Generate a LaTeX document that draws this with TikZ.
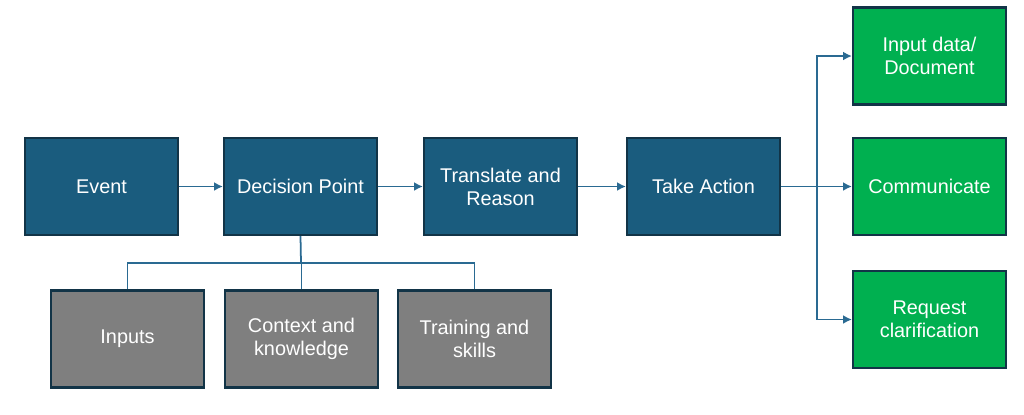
\documentclass[tikz,border=0pt]{standalone}
\usepackage{fontspec}
\setmainfont{Liberation Sans}
\usepackage{xcolor}
\usetikzlibrary{arrows.meta}

\definecolor{stepblue}{HTML}{1A5C7E}
\definecolor{stepgrey}{HTML}{7F7F7F}
\definecolor{stepgreen}{HTML}{00B050}
\definecolor{edgedark}{HTML}{123447}
\definecolor{linkblue}{HTML}{2A6A92}

\tikzset{
  stage/.style={draw=edgedark, line width=1.2pt, minimum width=3.06cm,
    minimum height=1.94cm, text=white, align=center,
    font=\fontsize{11.3}{13}\selectfont},
  link/.style={draw=linkblue, line width=1pt},
  arr/.style={link, -{Latex[length=5pt,width=5pt]}}
}

\begin{document}
\begin{tikzpicture}[x=0.02cm,y=-0.02cm]
\useasboundingbox (0,0) rectangle (1024,414);
% main line
\node[stage,fill=stepblue] (event) at (101.5,186.5) {Event};
\node[stage,fill=stepblue] (decision) at (300.5,186.5) {Decision Point};
\node[stage,fill=stepblue] (reason) at (500.5,186.5) {Translate and\\Reason};
\node[stage,fill=stepblue] (action) at (703.5,186.5) {Take Action};
% what the decision draws on
\node[stage,fill=stepgrey] (inputs) at (127.5,339) {Inputs};
\node[stage,fill=stepgrey] (context) at (301.5,339) {Context and\\knowledge};
\node[stage,fill=stepgrey] (training) at (474.5,339) {Training and\\skills};
% outcomes
\node[stage,fill=stepgreen] (indata) at (929.5,56) {Input data/\\Document};
\node[stage,fill=stepgreen] (comm) at (929.5,186.5) {Communicate};
\node[stage,fill=stepgreen] (clarify) at (929.5,319.5) {Request\\clarification};

\draw[arr] (event) -- (decision);
\draw[arr] (decision) -- (reason);
\draw[arr] (reason) -- (action);

\coordinate (bus) at (301,263);
\draw[link] (decision.south) -- (bus);
\draw[link] (inputs.north) |- (bus);
\draw[link] (training.north) |- (bus);
\draw[link] (context.north) -- (context.north |- bus);

\coordinate (fork) at (817,186.5);
\draw[arr] (action) -- (comm);
\draw[arr] (fork) |- (indata);
\draw[arr] (fork) |- (clarify);
\end{tikzpicture}
\end{document}
